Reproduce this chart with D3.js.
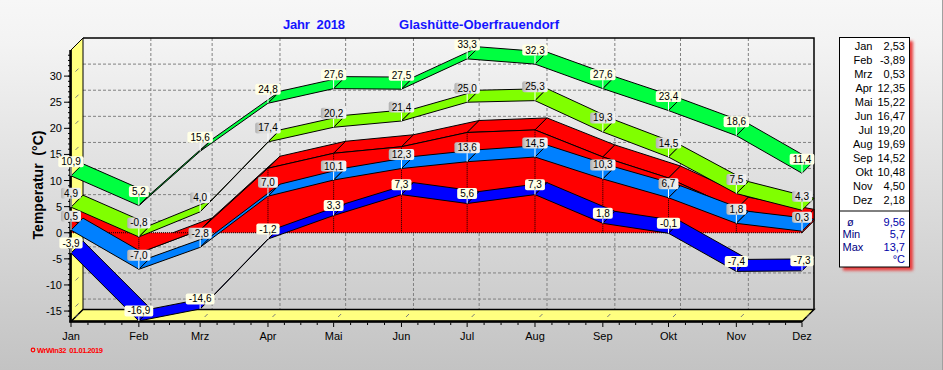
<!DOCTYPE html>
<html>
<head>
<meta charset="utf-8">
<script src="https://cdn.jsdelivr.net/npm/d3@7/dist/d3.min.js"></script>
<style>
    html, body { margin: 0; padding: 0; background: #e6e6e6; }
    svg { display: block; font-family: Arial, "Liberation Sans", sans-serif; }
</style>
</head>
<body>
<svg id="chart" width="943" height="370"></svg>
<script>
(function() {
    'use strict';

    // Monatswerte 2018
    var months = ['Jan', 'Feb', 'Mrz', 'Apr', 'Mai', 'Jun', 'Jul', 'Aug', 'Sep', 'Okt', 'Nov', 'Dez'];
    var absMax  = [10.9, 5.2, 15.6, 24.8, 27.6, 27.5, 33.3, 32.3, 27.6, 23.4, 18.6, 11.4];
    var meanMax = [4.9, -0.8, 4.0, 17.4, 20.2, 21.4, 25.0, 25.3, 19.3, 14.5, 7.5, 4.3];
    var meanTemp = [2.53, -3.89, 0.53, 12.35, 15.22, 16.47, 19.20, 19.69, 14.52, 10.48, 4.50, 2.18];
    var meanMin = [0.5, -7.0, -2.8, 7.0, 10.1, 12.3, 13.6, 14.5, 10.3, 6.7, 1.8, 0.3];
    var absMin  = [-3.9, -16.9, -14.6, -1.2, 3.3, 7.3, 5.6, 7.3, 1.8, -0.1, -7.4, -7.3];
    var yTicks = [-15, -10, -5, 0, 5, 10, 15, 20, 25, 30];
    var statNames = ['ø', 'Min', 'Max'];
    var statValues = [9.56, 5.7, 13.7];

    var de = d3.formatLocale({decimal: ',', thousands: '.', grouping: [3], currency: ['', ' €'], minus: '-'});
    var f1 = de.format('.1f'), f2 = de.format('.2f');

    var dates = months.map(function(m, i) { return new Date(2018, i, 1); });

    // 3D Tiefe
    var DX = 12, DY = 12;

    var x = d3.scaleTime().domain([dates[0], dates[11]]).range([71, 802]);
    var y = d3.scaleLinear().domain([-17, 35]).range([321.5, 50]);
    var y0 = y(0);

    var svg = d3.select('#chart');
    var defs = svg.append('defs');

    var bg = defs.append('linearGradient').attr('id', 'bg')
        .attr('x1', 0).attr('y1', 0).attr('x2', 0).attr('y2', 1);
    bg.append('stop').attr('offset', '0').attr('stop-color', '#f7f7f7');
    bg.append('stop').attr('offset', '0.12').attr('stop-color', '#f3f3f3');
    bg.append('stop').attr('offset', '1').attr('stop-color', '#c3c3c3');

    var gl = defs.append('linearGradient').attr('id', 'greyLabel')
        .attr('x1', 0).attr('y1', 0).attr('x2', 1).attr('y2', 0);
    gl.append('stop').attr('offset', '0').attr('stop-color', '#b0b0b0');
    gl.append('stop').attr('offset', '0.22').attr('stop-color', '#dadada');
    gl.append('stop').attr('offset', '1').attr('stop-color', '#f2f2f2');

    defs.append('filter').attr('id', 'blur')
        .append('feGaussianBlur').attr('stdDeviation', 1.6);

    svg.append('rect').attr('width', 943).attr('height', 370).attr('fill', 'url(#bg)');
    svg.append('line').attr('x1', 942.5).attr('x2', 942.5).attr('y1', 0).attr('y2', 370)
        .attr('stroke', '#a0a0a0');

    // Titel
    svg.append('text').attr('x', 283).attr('y', 28.5)
        .attr('font-size', 13).attr('font-weight', 'bold').attr('fill', '#1414ff')
        .style('white-space', 'pre').attr('textLength', 62)
        .text('Jahr  2018');
    svg.append('text').attr('x', 399).attr('y', 28.5)
        .attr('font-size', 13).attr('font-weight', 'bold').attr('fill', '#1414ff')
        .attr('textLength', 160)
        .text('Glashütte-Oberfrauendorf');

    // Rückwand Gitter
    var grid = svg.append('g').attr('stroke', '#808080').attr('stroke-dasharray', '3,2');
    grid.selectAll('line.h').data(yTicks).enter().append('line')
        .attr('x1', x(dates[0]) + DX).attr('x2', x(dates[11]) + DX)
        .attr('y1', function(d) { return y(d) - DY; })
        .attr('y2', function(d) { return y(d) - DY; });
    grid.selectAll('line.v').data(dates.slice(1, 11)).enter().append('line')
        .attr('x1', function(d) { return x(d) + DX; })
        .attr('x2', function(d) { return x(d) + DX; })
        .attr('y1', y(35) - DY).attr('y2', y(-17) - DY);

    // Rahmen Rückwand
    var xl = x(dates[0]), xr = x(dates[11]), yt = y(35), yb = y(-17);
    svg.append('polyline')
        .attr('points', [[xl + DX, yt - DY], [xr + DX, yt - DY], [xr + DX, yb - DY]].join(' '))
        .attr('fill', 'none').attr('stroke', '#000').attr('stroke-width', 1.5);

    // linke Wand und Boden
    svg.append('polygon')
        .attr('points', [[xl, yb], [xl, yt], [xl + DX, yt - DY], [xl + DX, yb - DY]].join(' '))
        .attr('fill', '#ffff80').attr('stroke', '#000');
    svg.append('polygon')
        .attr('points', [[xl, yb], [xr, yb], [xr + DX, yb - DY], [xl + DX, yb - DY]].join(' '))
        .attr('fill', '#ffff80').attr('stroke', '#000').attr('stroke-width', 1.5);

    svg.append('g').attr('stroke', '#7a7a7a').selectAll('line').data(yTicks).enter().append('line')
        .attr('x1', xl + 4.5).attr('x2', xl + 7.5)
        .attr('y1', function(d) { return y(d) - 4.5; })
        .attr('y2', function(d) { return y(d) - 7.5; });
    svg.append('g').attr('stroke', '#7a7a7a').selectAll('line').data(dates).enter().append('line')
        .attr('x1', function(d) { return x(d) + 4.5; })
        .attr('x2', function(d) { return x(d) + 7.5; })
        .attr('y1', yb - 4.5).attr('y2', yb - 7.5);

    // Mitteltemperatur als 3D Fläche
    var red = svg.append('g');
    var pts = meanTemp.map(function(v, i) { return [x(dates[i]), y(v)]; });
    for (var i = 0; i < pts.length - 1; i++) {
        var a = pts[i], b = pts[i + 1];
        red.append('polygon')
            .attr('points', [a, b, [b[0] + DX, b[1] - DY], [a[0] + DX, a[1] - DY]].join(' '))
            .attr('fill', '#ff0000').attr('stroke', '#000');
    }
    var last = pts[pts.length - 1];
    red.append('polygon')
        .attr('points', [[last[0], y0], last, [last[0] + DX, last[1] - DY], [last[0] + DX, y0 - DY]].join(' '))
        .attr('fill', '#ff0000').attr('stroke', '#000');
    var face = [[pts[0][0], y0]].concat(pts).concat([[last[0], y0]]);
    red.append('polygon').attr('points', face.join(' ')).attr('fill', '#ff0000');
    red.append('polyline').attr('points', pts.join(' '))
        .attr('fill', 'none').attr('stroke', '#000');
    red.append('line').attr('x1', pts[0][0]).attr('x2', last[0]).attr('y1', y0).attr('y2', y0)
        .attr('stroke', '#000').attr('stroke-dasharray', '1,1');
    red.selectAll('line.v').data(pts).enter().append('line')
        .attr('x1', function(d) { return d[0]; }).attr('x2', function(d) { return d[0]; })
        .attr('y1', y0).attr('y2', function(d) { return d[1]; })
        .attr('stroke', '#000').attr('stroke-dasharray', '1,1');

    // Bänder
    var ribbons = [
        {values: absMin,  color: '#0000ff', label: '#ffffe6',         gap: 4.5},
        {values: meanMin, color: '#0080ff', label: 'url(#greyLabel)', gap: 8.5},
        {values: meanMax, color: '#80ff00', label: 'url(#greyLabel)', gap: 8.5},
        {values: absMax,  color: '#00ff40', label: '#ffffe6',         gap: 8.5}
    ];

    ribbons.forEach(function(s) {
        var g = svg.append('g');
        var p = s.values.map(function(v, i) { return [x(dates[i]), y(v)]; });
        for (var i = 0; i < p.length - 1; i++) {
            var a = p[i], b = p[i + 1];
            g.append('polygon')
                .attr('points', [a, b, [b[0] + DX, b[1] - DY], [a[0] + DX, a[1] - DY]].join(' '))
                .attr('fill', s.color).attr('stroke', '#000');
        }
    });

    // Achsen vorne
    svg.append('line').attr('x1', xl - 0.5).attr('x2', xl - 0.5).attr('y1', yt).attr('y2', yb + 1)
        .attr('stroke', '#000').attr('stroke-width', 2.5);
    svg.append('line').attr('x1', xl - 1.5).attr('x2', xr).attr('y1', yb).attr('y2', yb)
        .attr('stroke', '#000').attr('stroke-width', 2.5);

    var yAxis = svg.append('g');
    yAxis.selectAll('line').data(yTicks).enter().append('line')
        .attr('x1', xl - 7).attr('x2', xl - 1)
        .attr('y1', function(d) { return y(d); }).attr('y2', function(d) { return y(d); })
        .attr('stroke', '#000');
    yAxis.selectAll('text').data(yTicks).enter().append('text')
        .attr('x', xl - 9).attr('y', function(d) { return y(d) + 4; })
        .attr('text-anchor', 'end').attr('font-size', 11).attr('fill', '#000')
        .text(function(d) { return d; });
    yAxis.selectAll('line.minor').data(d3.range(-16, 35)).enter().append('line')
        .attr('x1', xl - 3).attr('x2', xl - 1)
        .attr('y1', function(d) { return y(d); }).attr('y2', function(d) { return y(d); })
        .attr('stroke', '#000');

    var xAxis = svg.append('g');
    var minor = [];
    for (var m = 0; m < 11; m++) {
        for (var q = 1; q < 4; q++) {
            minor.push(x(dates[m]) + (x(dates[m + 1]) - x(dates[m])) * q / 4);
        }
    }
    xAxis.selectAll('line.minor').data(minor).enter().append('line')
        .attr('x1', function(d) { return d; }).attr('x2', function(d) { return d; })
        .attr('y1', yb + 1).attr('y2', yb + 3.5).attr('stroke', '#000');
    xAxis.selectAll('line.major').data(dates).enter().append('line')
        .attr('x1', function(d) { return x(d); }).attr('x2', function(d) { return x(d); })
        .attr('y1', yb + 1).attr('y2', yb + 5.5).attr('stroke', '#000');
    xAxis.selectAll('text').data(dates).enter().append('text')
        .attr('x', function(d) { return x(d); }).attr('y', 339.5)
        .attr('text-anchor', 'middle').attr('font-size', 11).attr('fill', '#000')
        .text(function(d, i) { return months[i]; });

    svg.append('text')
        .attr('transform', 'translate(43,185) rotate(-90)')
        .attr('text-anchor', 'middle').attr('font-size', 14).attr('font-weight', 'bold')
        .style('white-space', 'pre')
        .text('Temperatur  (°C)');

    // Wertelabels
    ribbons.forEach(function(s) {
        var g = svg.append('g');
        s.values.forEach(function(v, i) {
            var px = x(dates[i]), py = y(v);
            var top = py - s.gap - 11;
            var lbl = g.append('g');
            var rect = lbl.append('rect').attr('y', top).attr('height', 11)
                .attr('rx', 2).attr('fill', s.label);
            var t = lbl.append('text').attr('x', px).attr('y', top + 9)
                .attr('text-anchor', 'middle').attr('font-size', 10).attr('fill', '#000')
                .text(f1(v));
            var w = t.node().getComputedTextLength() + 6;
            rect.attr('x', px - w / 2).attr('width', w);
            lbl.append('line').attr('x1', px).attr('x2', px)
                .attr('y1', py - s.gap).attr('y2', py)
                .attr('stroke', '#fff');
        });
    });

    // Legende
    var lg = svg.append('g');
    lg.append('rect').attr('x', 843).attr('y', 41).attr('width', 70).attr('height', 229.5)
        .attr('fill', '#e83c3c').attr('filter', 'url(#blur)');
    lg.append('rect').attr('x', 839.5).attr('y', 37.5).attr('width', 70).attr('height', 229.5)
        .attr('fill', '#fff').attr('stroke', '#000');
    lg.selectAll('text.m').data(months).enter().append('text')
        .attr('x', 872.5).attr('y', function(d, i) { return 50 + i * 14.03; })
        .attr('text-anchor', 'end').attr('font-size', 11).attr('fill', '#000')
        .text(function(d) { return d; });
    lg.selectAll('text.v').data(meanTemp).enter().append('text')
        .attr('x', 905).attr('y', function(d, i) { return 50 + i * 14.03; })
        .attr('text-anchor', 'end').attr('font-size', 11).attr('fill', '#000')
        .text(function(d) { return f2(d); });
    lg.append('line').attr('x1', 839.5).attr('x2', 909.5).attr('y1', 211).attr('y2', 211)
        .attr('stroke', '#000');
    lg.selectAll('text.sn').data(statNames).enter().append('text')
        .attr('x', function(d, i) { return i === 0 ? 847 : 842.5; })
        .attr('y', function(d, i) { return 226 + i * 12.4; })
        .attr('font-size', 11).attr('fill', '#000080')
        .text(function(d) { return d; });
    lg.selectAll('text.sv').data(statValues).enter().append('text')
        .attr('x', 905).attr('y', function(d, i) { return 226 + i * 12.4; })
        .attr('text-anchor', 'end').attr('font-size', 11).attr('fill', '#0000a8')
        .text(function(d, i) { return i === 0 ? f2(d) : f1(d); });
    lg.append('text').attr('x', 905).attr('y', 263)
        .attr('text-anchor', 'end').attr('font-size', 11).attr('fill', '#0000a8')
        .text('°C');

    // Fußzeile
    svg.append('circle').attr('cx', 33).attr('cy', 350).attr('r', 1.8)
        .attr('fill', 'none').attr('stroke', '#ff0000').attr('stroke-width', 1.2);
    svg.append('text').attr('x', 37).attr('y', 352.5)
        .attr('font-size', 7.5).attr('font-weight', 'bold').attr('fill', '#ff0000')
        .style('white-space', 'pre').attr('textLength', 66)
        .text('WrWin32  01.01.2019');
})();
</script>
</body>
</html>
